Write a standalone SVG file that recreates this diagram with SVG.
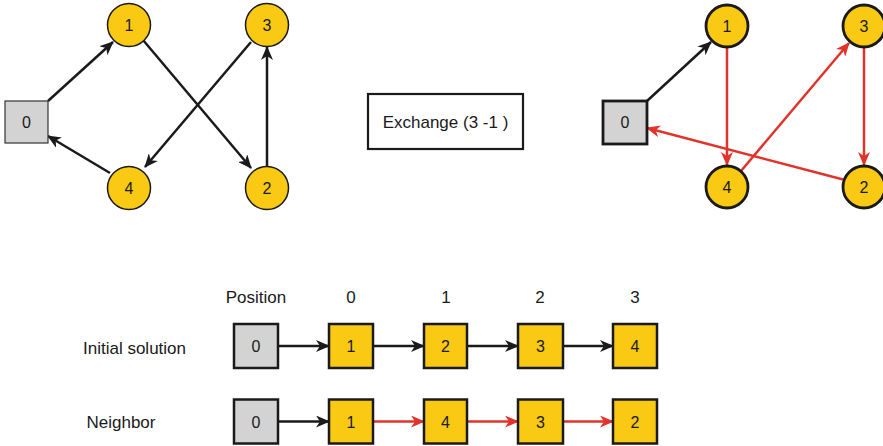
<svg xmlns="http://www.w3.org/2000/svg" width="883" height="446" viewBox="0 0 883 446">
<defs>
<style>
text{font-family:"Liberation Sans",Arial,sans-serif;fill:#1a1a1a;text-anchor:middle}
.num{font-size:16px}
.lbl{font-size:17px}
.yc{fill:#F9C913;stroke:#1a1a1a;stroke-width:1.5}
.yc2{fill:#F9C913;stroke:#1a1a1a;stroke-width:2.8}
.gs{fill:#D3D3D3;stroke:#333;stroke-width:1.2}
.gs2{fill:#D3D3D3;stroke:#1a1a1a;stroke-width:2.8}
.box{fill:#F9C913;stroke:#1a1a1a;stroke-width:2.5}
.gbox{fill:#D3D3D3;stroke:#1a1a1a;stroke-width:2.5}
.e{fill:none;stroke:#1a1a1a;stroke-width:2.5;marker-end:url(#ak)}
.r{fill:none;stroke:#E2332A;stroke-width:2.5;marker-end:url(#ar)}
</style>
<marker id="ak" markerUnits="userSpaceOnUse" markerWidth="14" markerHeight="12" refX="13" refY="6" orient="auto" viewBox="0 0 14 12">
<path d="M0,0 L14,6 L0,12 L4,6 z" fill="#1a1a1a"/>
</marker>
<marker id="ar" markerUnits="userSpaceOnUse" markerWidth="14" markerHeight="12" refX="13" refY="6" orient="auto" viewBox="0 0 14 12">
<path d="M0,0 L14,6 L0,12 L4,6 z" fill="#E2332A"/>
</marker>
</defs>
<g id="connectors">
<line class="e" x1="48" y1="101" x2="113" y2="42"/>
<line class="e" x1="143" y1="40" x2="251" y2="168"/>
<line class="e" x1="251" y1="42" x2="145" y2="167"/>
<line class="e" x1="267" y1="166" x2="267" y2="47"/>
<line class="e" x1="110" y1="173" x2="48" y2="136"/>
<line class="e" x1="647" y1="101" x2="711" y2="42"/>
<line class="r" x1="727" y1="48" x2="727" y2="165"/>
<line class="r" x1="741" y1="171" x2="849" y2="43"/>
<line class="r" x1="864" y1="48" x2="864" y2="165"/>
<line class="r" x1="845" y1="180" x2="647" y2="128"/>
<line class="e" x1="278" y1="346" x2="329" y2="346"/>
<line class="e" x1="373" y1="346" x2="424" y2="346"/>
<line class="e" x1="467" y1="346" x2="518" y2="346"/>
<line class="e" x1="563" y1="346" x2="613" y2="346"/>
<line class="e" x1="278" y1="421.5" x2="329" y2="421.5"/>
<line class="r" x1="373" y1="421.5" x2="424" y2="421.5"/>
<line class="r" x1="467" y1="421.5" x2="518" y2="421.5"/>
<line class="r" x1="563" y1="421.5" x2="613" y2="421.5"/>
</g>
<g id="L0"><rect class="gs" x="5" y="101" width="43" height="42"/><text class="num" x="26.5" y="128">0</text></g>
<g id="L1"><circle class="yc" cx="129" cy="25" r="21.5"/><text class="num" x="129" y="31">1</text></g>
<g id="L3"><circle class="yc" cx="267" cy="25" r="21.5"/><text class="num" x="267" y="31">3</text></g>
<g id="L4"><circle class="yc" cx="129" cy="188" r="21.5"/><text class="num" x="129" y="194">4</text></g>
<g id="L2"><circle class="yc" cx="267" cy="188" r="21.5"/><text class="num" x="267" y="194">2</text></g>
<g id="exchange"><rect x="368" y="94" width="155" height="55" fill="#fff" stroke="#1a1a1a" stroke-width="2.2"/><text class="lbl" x="445.5" y="127.5">Exchange (3 -1 )</text></g>
<g id="R0"><rect class="gs2" x="603" y="101" width="44" height="43"/><text class="num" x="625" y="128">0</text></g>
<g id="R1"><circle class="yc2" cx="727" cy="26" r="21"/><text class="num" x="727" y="32">1</text></g>
<g id="R3"><circle class="yc2" cx="864" cy="26" r="21"/><text class="num" x="864" y="32">3</text></g>
<g id="R4"><circle class="yc2" cx="727" cy="187" r="21"/><text class="num" x="727" y="193">4</text></g>
<g id="R2"><circle class="yc2" cx="864" cy="187" r="21"/><text class="num" x="864" y="193">2</text></g>
<g id="labels">
<text class="lbl" x="256" y="303">Position</text>
<text class="lbl" x="351" y="303">0</text>
<text class="lbl" x="446" y="303">1</text>
<text class="lbl" x="540" y="303">2</text>
<text class="lbl" x="635" y="303">3</text>
<text class="lbl" x="134.5" y="353.5">Initial solution</text>
<text class="lbl" x="121" y="428">Neighbor</text>
</g>
<g id="A0"><rect class="gbox" x="234" y="324" width="44" height="44"/><text class="num" x="256" y="352">0</text></g>
<g id="A1"><rect class="box" x="329" y="324" width="44" height="44"/><text class="num" x="351" y="352">1</text></g>
<g id="A2"><rect class="box" x="424" y="324" width="43" height="44"/><text class="num" x="445.5" y="352">2</text></g>
<g id="A3"><rect class="box" x="518" y="324" width="45" height="44"/><text class="num" x="540.5" y="352">3</text></g>
<g id="A4"><rect class="box" x="613" y="324" width="44" height="44"/><text class="num" x="635" y="352">4</text></g>
<g id="B0"><rect class="gbox" x="234" y="399.5" width="44" height="44"/><text class="num" x="256" y="427.5">0</text></g>
<g id="B1"><rect class="box" x="329" y="399.5" width="44" height="44"/><text class="num" x="351" y="427.5">1</text></g>
<g id="B4"><rect class="box" x="424" y="399.5" width="43" height="44"/><text class="num" x="445.5" y="427.5">4</text></g>
<g id="B3"><rect class="box" x="518" y="399.5" width="45" height="44"/><text class="num" x="540.5" y="427.5">3</text></g>
<g id="B2"><rect class="box" x="613" y="399.5" width="44" height="44"/><text class="num" x="635" y="427.5">2</text></g>
</svg>
